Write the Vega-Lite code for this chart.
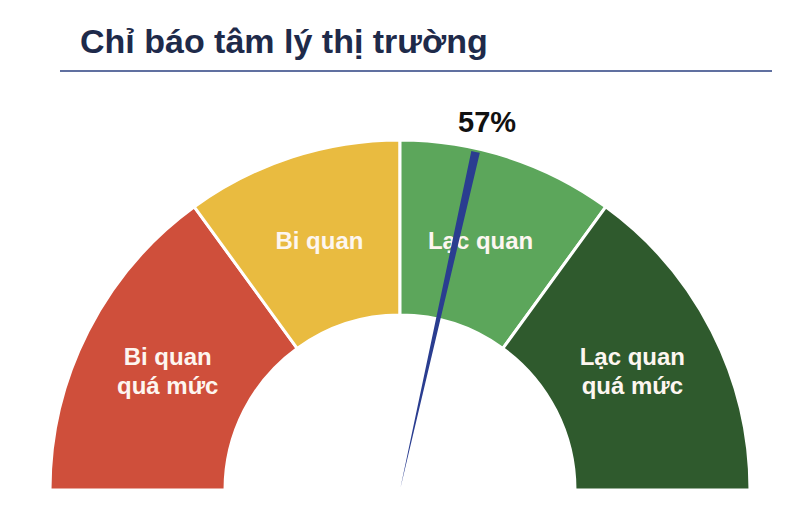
{
  "$schema": "https://vega.github.io/schema/vega-lite/v6.json",
  "width": 800,
  "height": 514,
  "autosize": {"type": "fit", "contains": "padding"},
  "padding": 0,
  "background": "white",
  "datasets": {
    "zones": [
      {"zone": "Bi quan quá mức", "start": 0, "end": 0.3},
      {"zone": "Bi quan", "start": 0.3, "end": 0.5},
      {"zone": "Lạc quan", "start": 0.5, "end": 0.7},
      {"zone": "Lạc quan quá mức", "start": 0.7, "end": 1}
    ],
    "reading": [{"value": 0.57}],
    "heading": [{"text": "Chỉ báo tâm lý thị trường"}]
  },
  "layer": [
    {
      "data": {"name": "zones"},
      "mark": {"type": "arc", "stroke": "white", "strokeWidth": 3},
      "encoding": {
        "x": {"datum": 0, "type": "quantitative", "scale": {"domain": [-1.142857, 1.142857], "nice": false, "zero": false}, "axis": null},
        "y": {"datum": 0, "type": "quantitative", "scale": {"domain": [-0.068571, 1.4], "nice": false, "zero": false}, "axis": null},
        "theta": {"field": "start", "type": "quantitative", "scale": {"domain": [0, 1], "range": [-1.5707963, 1.5707963]}},
        "theta2": {"field": "end"},
        "radius": {"datum": 1, "type": "quantitative", "scale": {"type": "linear", "domain": [0, 1], "range": [0, 350], "zero": true, "nice": false}},
        "radius2": {"datum": 0.5},
        "color": {
          "field": "zone",
          "type": "nominal",
          "scale": {
            "domain": ["Bi quan quá mức", "Bi quan", "Lạc quan", "Lạc quan quá mức"],
            "range": ["#cf4f3b", "#e9bb40", "#5ca65b", "#2f5a2d"]
          },
          "legend": null
        }
      }
    },
    {
      "data": {"name": "zones"},
      "transform": [
        {"filter": "indexof(datum.zone, 'quá mức') < 0"},
        {"calculate": "(datum.start + datum.end) / 2", "as": "mid"}
      ],
      "mark": {"type": "text", "font": "Liberation Sans", "fontWeight": "bold", "fontSize": 24, "color": "#fdf6f0", "align": "center", "baseline": "middle"},
      "encoding": {
        "x": {"datum": 0, "type": "quantitative", "scale": {"domain": [-1.142857, 1.142857], "nice": false, "zero": false}, "axis": null},
        "y": {"datum": 0, "type": "quantitative", "scale": {"domain": [-0.068571, 1.4], "nice": false, "zero": false}, "axis": null},
        "theta": {"field": "mid", "type": "quantitative", "scale": {"domain": [0, 1], "range": [-1.5707963, 1.5707963]}},
        "radius": {"datum": 0.745, "type": "quantitative", "scale": {"type": "linear", "domain": [0, 1], "range": [0, 350], "zero": true, "nice": false}},
        "text": {"field": "zone", "type": "nominal"}
      }
    },
    {
      "data": {"name": "zones"},
      "transform": [
        {"filter": "indexof(datum.zone, 'quá mức') >= 0"},
        {"calculate": "(datum.start + datum.end) / 2", "as": "mid"},
        {"calculate": "replace(datum.zone, ' quá mức', '\\nquá mức')", "as": "labelText"}
      ],
      "mark": {"type": "text", "font": "Liberation Sans", "fontWeight": "bold", "fontSize": 24, "color": "#fdf6f0", "align": "center", "baseline": "middle", "lineBreak": "\n", "lineHeight": 29, "dy": -14},
      "encoding": {
        "x": {"datum": 0, "type": "quantitative", "scale": {"domain": [-1.142857, 1.142857], "nice": false, "zero": false}, "axis": null},
        "y": {"datum": 0, "type": "quantitative", "scale": {"domain": [-0.068571, 1.4], "nice": false, "zero": false}, "axis": null},
        "theta": {"field": "mid", "type": "quantitative", "scale": {"domain": [0, 1], "range": [-1.5707963, 1.5707963]}},
        "radius": {"datum": 0.745, "type": "quantitative", "scale": {"type": "linear", "domain": [0, 1], "range": [0, 350], "zero": true, "nice": false}},
        "text": {"field": "labelText", "type": "nominal"}
      }
    },
    {
      "data": {"name": "reading"},
      "transform": [
        {"calculate": "datum.value - 0.004", "as": "a0"},
        {"calculate": "datum.value + 0.004", "as": "a1"}
      ],
      "mark": {"type": "arc", "color": "#2a3d90"},
      "encoding": {
        "x": {"datum": 0, "type": "quantitative", "scale": {"domain": [-1.142857, 1.142857], "nice": false, "zero": false}, "axis": null},
        "y": {"datum": 0, "type": "quantitative", "scale": {"domain": [-0.068571, 1.4], "nice": false, "zero": false}, "axis": null},
        "theta": {"field": "a0", "type": "quantitative", "scale": {"domain": [0, 1], "range": [-1.5707963, 1.5707963]}},
        "theta2": {"field": "a1"},
        "radius": {"datum": 0.99, "type": "quantitative", "scale": {"type": "linear", "domain": [0, 1], "range": [0, 350], "zero": true, "nice": false}},
        "radius2": {"datum": 0.01}
      }
    },
    {
      "data": {"name": "reading"},
      "mark": {"type": "text", "font": "Liberation Sans", "fontWeight": "bold", "fontSize": 29, "color": "#111111", "align": "center", "baseline": "middle", "dx": 5},
      "encoding": {
        "x": {"datum": 0, "type": "quantitative", "scale": {"domain": [-1.142857, 1.142857], "nice": false, "zero": false}, "axis": null},
        "y": {"datum": 0, "type": "quantitative", "scale": {"domain": [-0.068571, 1.4], "nice": false, "zero": false}, "axis": null},
        "theta": {"field": "value", "type": "quantitative", "scale": {"domain": [0, 1], "range": [-1.5707963, 1.5707963]}},
        "radius": {"datum": 1.075, "type": "quantitative", "scale": {"type": "linear", "domain": [0, 1], "range": [0, 350], "zero": true, "nice": false}},
        "text": {"field": "value", "type": "quantitative", "format": ".0%"}
      }
    },
    {
      "data": {"name": "heading"},
      "mark": {"type": "text", "font": "Liberation Sans", "fontWeight": "bold", "fontSize": 34, "color": "#1e2a4a", "align": "left", "baseline": "alphabetic"},
      "encoding": {
        "x": {"datum": -0.914286, "type": "quantitative", "scale": {"domain": [-1.142857, 1.142857], "nice": false, "zero": false}, "axis": null},
        "y": {"datum": 1.248571, "type": "quantitative", "scale": {"domain": [-0.068571, 1.4], "nice": false, "zero": false}, "axis": null},
        "text": {"field": "text", "type": "nominal"}
      }
    },
    {
      "data": {"name": "heading"},
      "mark": {"type": "rule", "color": "#6070a0", "strokeWidth": 2},
      "encoding": {
        "x": {"datum": -0.971429, "type": "quantitative", "scale": {"domain": [-1.142857, 1.142857], "nice": false, "zero": false}, "axis": null},
        "x2": {"datum": 1.062857},
        "y": {"datum": 1.197143, "type": "quantitative", "scale": {"domain": [-0.068571, 1.4], "nice": false, "zero": false}, "axis": null}
      }
    }
  ],
  "config": {
    "view": {"stroke": null},
    "font": "Liberation Sans"
  }
}
